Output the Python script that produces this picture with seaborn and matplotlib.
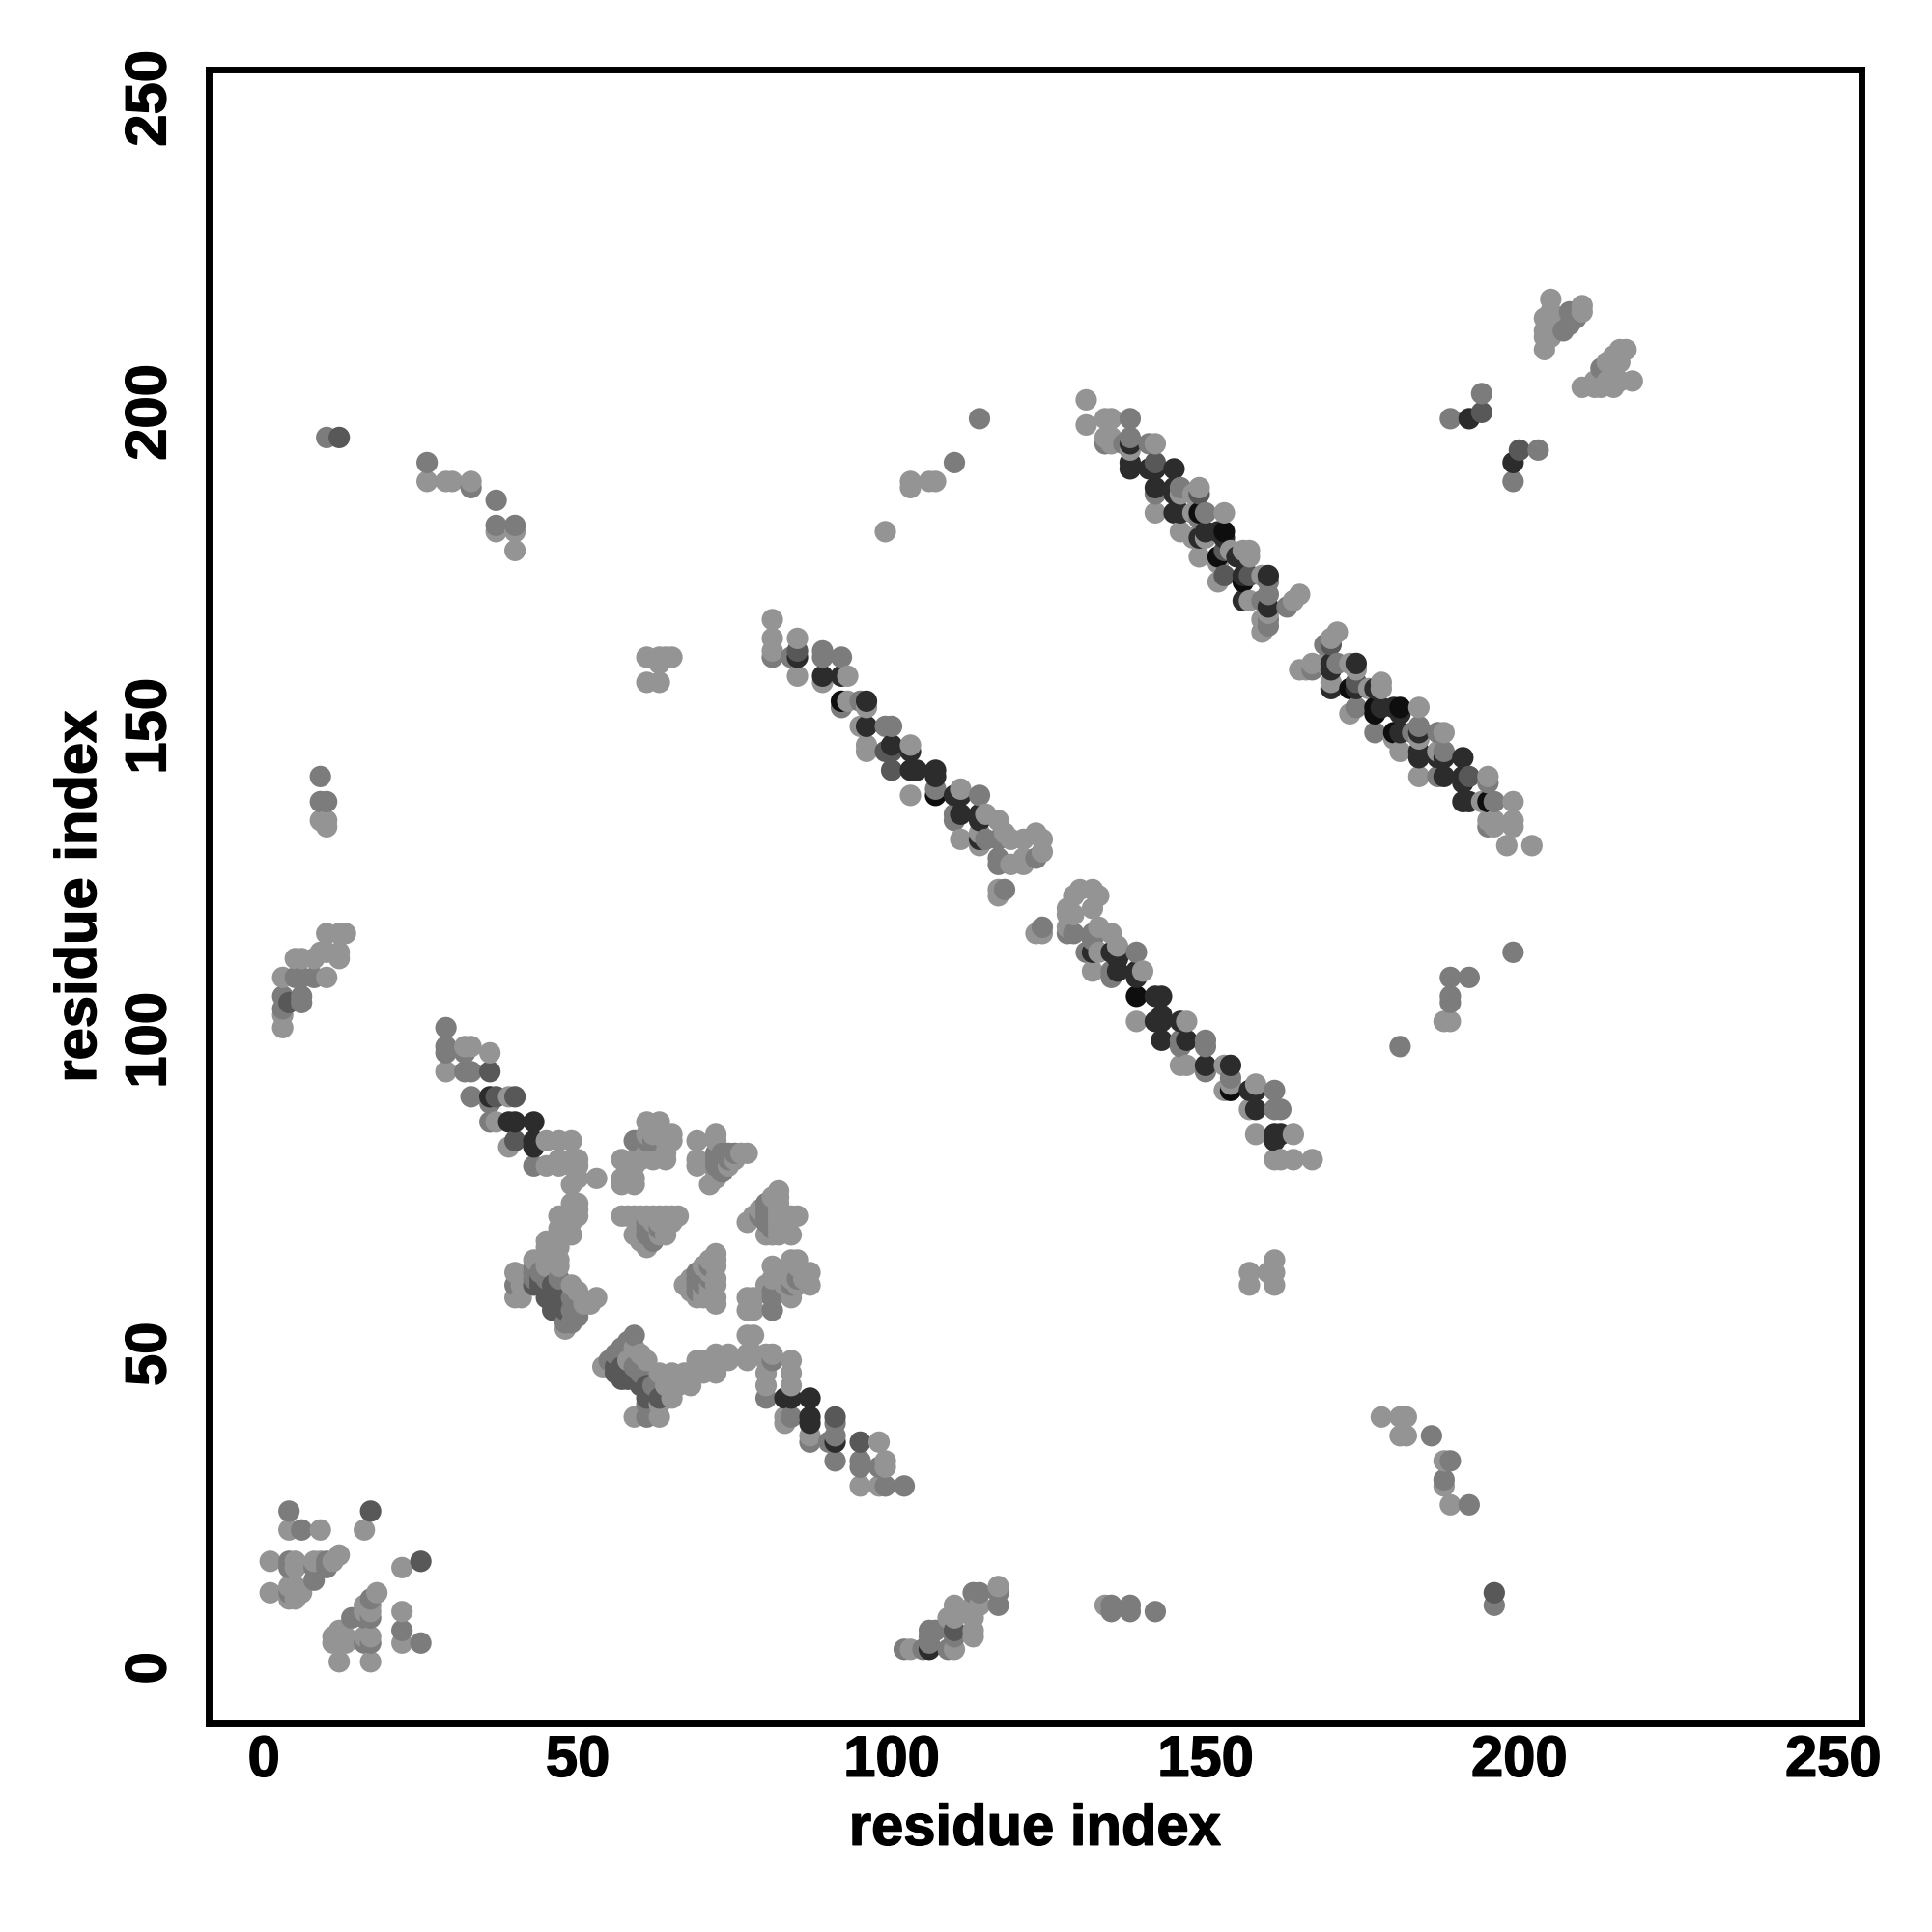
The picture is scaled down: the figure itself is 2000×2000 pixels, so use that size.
#!/usr/bin/env python3

import matplotlib
matplotlib.use("Agg")
import matplotlib.pyplot as plt
import matplotlib.patheffects as pe
import seaborn as sns
import pandas as pd

# contacts (residue i, residue j), grouped by grey level
light = [
    (81,167),(81,164),(81,162),(85,164),(85,158),(89,157),(93,158),(93,154),(96,153),(95,150),(96,147),(96,146),
    (103,147),(103,139),(111,140),(115,136),(111,132),(114,133),(114,131),(117,135),(118,133),(119,132),(121,132),
    (123,133),(124,132),(124,130),(119,128),(121,128),(121,129),(117,124),(117,123),(123,117),(124,117),(128,121),
    (128,120),(128,118),(129,120),(129,123),(130,124),(132,124),(133,123),(132,121),(133,118),(135,117),(133,114),
    (136,115),(132,111),(140,111),(139,103),(147,103),(146,96),(147,96),(153,96),(154,93),(153,92),(158,93),(157,89),
    (158,85),(164,85),(161,81),(162,81),(164,81),(167,81),
    # second band
    (131,202),(131,198),(134,199),(135,199),(134,196),(135,196),(135,195),(138,194),(142,195),(149,188),(146,187),
    (148,187),(142,184),(148,184),(153,184),(146,181),(148,180),(150,180),(149,177),(152,176),(154,178),(156,178),
    (157,178),(157,177),(152,173),(159,174),(157,170),(164,170),(165,171),(160,168),(159,167),(159,165),(171,165),
    (170,164),(165,159),(166,159),(167,160),(169,160),(173,160),(174,159),(170,157),(178,157),(178,156),(176,156),
    (173,152),(184,153),(180,148),(184,148),(188,149),(181,146),(187,146),(184,142),(195,142),(194,138),(199,138),
    (195,135),(196,135),(196,134),(199,135),(199,134),(198,131),(202,131),
    # top right cluster
    (205,218),(205,216),(204,215),(205,215),(204,213),(205,213),(204,212),(205,212),(204,210),(206,213),(210,217),
    (210,216),(216,210),(217,210),(216,208),(215,209),(210,204),(212,204),(213,204),(212,205),(215,204),(215,205),
    (216,205),(218,205),(213,205),(214,205),(214,208),
    # first band, lower half
    (32,99),(33,99),(36,98),(29,95),(39,91),(37,87),(39,83),(45,84),(47,84),(49,84),(45,80),(47,81),(47,80),(49,81),
    (50,81),(49,80),(50,80),(49,77),(50,78),(53,78),(49,74),(50,74),(50,73),(49,73),(50,72),(47,72),(48,72),(49,71),
    (49,69),(47,70),(48,69),(45,68),(47,68),(45,67),(47,67),(43,65),(45,65),(47,65),(47,64),(45,64),(40,63),(40,59),
    (41,59),(41,61),(49,61),(50,60),(51,58),(52,58),(53,59),(48,54),(54,48),(58,49),(59,51),(60,50),(61,49),(63,47),
    (65,47),(65,43),(64,45),(66,45),(68,45),(67,47),(68,47),(59,40),(63,40),(63,42),(69,49),(70,49),(69,47),(70,47),
    (72,50),(74,50),(72,47),(74,49),(77,53),(78,53),(77,50),(78,50),(77,49),(80,50),(81,50),(80,49),(80,47),(80,45),
    (84,49),(84,47),(84,45),(83,40),(83,39),(87,37),(98,36),(99,33),(99,32),(95,29),(98,29),
    # blocks around the centre
    (61,87),(63,87),(61,85),(62,85),(63,85),(64,84),(65,85),(65,84),(64,82),(64,81),(57,81),(59,81),(60,81),(62,81),
    (61,82),(57,78),(59,78),(57,77),(59,77),(59,80),(69,84),(72,85),(72,84),(69,81),(69,80),(76,82),(77,82),(75,81),
    (74,80),(72,79),(72,78),(71,77),(57,72),(58,72),(59,72),(60,72),(61,72),(62,72),(63,72),(64,72),(65,72),(66,72),
    (59,69),(60,69),(63,69),(64,69),(61,68),(60,68),(61,67),(62,71),(64,71),(60,71),(63,71),(65,71),(60,70),(82,76),
    (81,75),(82,75),(82,74),(79,73),(78,72),(77,71),(82,72),(84,72),(85,72),(80,69),(81,69),(82,69),(84,69),(82,71),
    (82,73),(82,70),(72,66),(71,65),(72,65),(72,64),(70,64),(71,63),(68,62),(72,62),(67,61),(71,61),(72,61),(69,59),
    (72,59),(72,58),(70,60),(68,60),(71,60),(71,59),(70,59),(81,64),(84,65),(85,65),
    (81,62),(80,61),(77,59),(78,59),(77,57),(78,57),(83,63),(84,64),(85,64),(87,63),(87,61),(86,62),(83,61),(84,59),
    (85,61),(84,62),
    # bottom left
    (4,22),(9,22),(16,22),(1,17),(5,17),(5,16),(8,17),(9,17),(11,17),(12,18),(22,16),(1,12),(4,13),(5,13),(6,12),
    (4,11),(5,11),(18,12),(16,10),(17,10),(16,9),(17,9),(12,6),(11,5),(12,5),(13,5),(11,4),(12,4),(13,4),(16,5),
    (17,5),(22,9),(22,4),(12,1),(17,1),
    # bottom middle
    (103,3),(110,3),(109,8),(110,10),(110,8),(113,10),(114,10),(113,9),(113,8),(113,6),(113,5),(117,13),(134,10),
    # scattered
    (26,189),(29,189),(30,189),(33,189),(37,181),(40,181),(40,178),(99,181),(103,188),(103,189),(106,189),(107,189),
    (61,161),(61,157),(63,157),(63,161),(64,161),(65,161),(63,160),(9,135),(10,135),(10,134),(3,110),(3,104),(3,102),
    (5,113),(6,113),(8,113),(10,110),(10,114),(12,114),(9,114),(10,117),(12,117),(13,117),(12,113),(188,103),(189,103),
    (157,63),(157,61),(161,65),(161,63),(160,63),(161,61),(178,40),(181,40),(182,40),(181,37),(182,37),(188,33),
    (188,29),(189,26),
]
mid = [
    (81,161),(84,161),(89,162),(89,161),(92,161),(92,153),(95,154),(99,150),(100,150),(107,140),(114,139),(110,136),
    (110,135),(115,132),(117,132),(123,129),(117,129),(117,128),(118,124),(124,118),(128,117),(129,117),(132,117),
    (132,116),(131,114),(139,114),(135,111),(135,110),(146,100),(146,99),(150,100),(150,99),(150,95),(154,94),(161,92),
    (161,89),(162,89),
    (138,199),(134,195),(138,196),(137,195),(141,195),(142,187),(146,188),(149,183),(150,184),(160,173),(159,170),
    (160,171),(163,169),(160,167),(160,166),(169,163),(167,159),(171,160),(174,153),(177,149),(184,150),(183,149),
    (187,149),(188,146),(187,142),(195,141),(196,138),(195,134),
    (194,203),(189,199),(203,194),(199,189),(207,213),(208,216),(208,214),(209,215),(213,207),
    (29,102),(29,99),(29,98),(32,98),(32,95),(33,95),(33,91),(36,90),(36,87),(43,80),(40,61),(43,63),(43,64),(44,63),
    (43,62),(45,62),(47,62),(49,59),(49,57),(49,55),(50,58),(50,56),(48,55),(59,53),(58,52),(57,51),(56,50),(55,49),
    (59,48),(60,47),(62,45),(61,40),(61,42),(81,49),(80,43),(84,40),(91,39),(90,36),(91,37),(91,33),(95,33),(95,32),
    (98,32),(99,29),(102,29),(87,36),
    (59,84),(61,84),(62,84),(74,82),(72,82),(73,81),(73,79),(73,80),(74,81),(72,81),(73,82),(75,82),(72,80),(81,73),
    (80,74),(80,72),(80,71),(81,74),(81,72),(81,71),(80,73),(79,72),(81,70),(62,70),(61,70),(61,71),(61,69),(63,70),
    (62,69),(62,68),(70,62),(69,63),(69,61),(70,63),(71,62),(71,64),(70,61),(69,62),(69,60),(81,60),(81,59),(81,57),
    (85,62),(84,61),
    (4,25),(6,22),(4,17),(4,16),(10,17),(10,16),(8,16),(8,14),(4,12),(17,11),(14,8),(16,8),(17,8),(16,4),(17,4),
    (22,6),(25,4),
    (102,3),(105,3),(106,4),(106,6),(107,6),(106,5),(109,3),(110,5),(113,12),(114,12),(117,12),(117,10),(135,10),
    (135,9),(138,10),(138,9),(142,9),(196,10),
    (10,196),(26,192),(33,188),(37,186),(37,182),(40,182),(110,192),(114,199),(9,142),(9,138),(10,138),(3,107),(3,105),
    (5,110),(6,110),(6,107),(8,110),(199,114),(189,110),(189,107),(189,106),(192,110),(181,99),(186,37),(189,33),
    (188,30),(192,26),(6,106),
]
mid_dark = [
    (85,162),(100,143),(99,146),(100,146),(142,192),(149,187),(153,178),(153,174),(157,174),(170,163),
    (174,157),(192,142),
    (194,200),(200,194),(196,12),(12,196),(110,6),
    (36,95),(37,91),(40,91),(40,84),(43,61),(44,62),(44,61),(45,61),(46,61),(46,59),(47,59),(48,58),(48,57),(56,48),
    (57,48),(56,47),(57,46),(58,46),(59,46),(60,45),(61,43),(63,43),(91,40),(95,36),(17,25),(25,17),(4,106),
    (45,59),(46,58),(46,57),(61,45),
]
dark = [
    (85,161),(89,158),(92,158),(96,154),(96,150),(100,147),(103,146),(103,143),(104,143),(107,143),(107,142),(110,139),
    (111,139),(111,136),(114,136),(114,135),(114,132),(132,114),(135,114),(136,113),(136,111),(139,111),(139,110),
    (142,107),(143,107),(142,103),(143,104),(143,103),(146,103),(143,100),(147,100),(150,96),(154,96),(157,92),(158,92),
    (158,89),(161,85),(162,85),(161,84),
    (138,195),(138,192),(138,191),(141,191),(142,191),(145,191),(142,188),(145,188),(145,187),(145,184),(146,184),
    (149,180),(150,181),(152,181),(153,180),(155,177),(156,174),(160,174),(156,170),(160,169),(170,160),
    (170,159),(174,160),(170,156),(174,156),(177,156),(178,153),(180,153),(181,152),(181,149),(184,149),(184,146),
    (184,145),(188,145),(187,145),(191,145),(188,142),(191,142),(191,141),(191,138),(192,138),(192,199),(199,192),
    (36,91),(39,87),(40,87),(43,87),(43,84),(43,83),(83,43),(84,43),(87,43),(87,40),
    (87,39),(91,36),(106,3),
]
black = [
    (92,154),(107,139),(139,107),(154,92),(149,184),(153,181),(152,177),(156,173),(173,156),(177,153),(177,152),
    (181,153),(180,149),(195,138),
]

shade_names = ["light", "mid", "mid_dark", "dark", "black"]
shade_points = [light, mid, mid_dark, dark, black]
shade_colors = ["#949494", "#7c7c7c", "#585858", "#2c2c2c", "#0e0e0e"]

x_ticks = [0, 50, 100, 150, 200, 250]
y_ticks = [0, 50, 100, 150, 200, 250]

sns.set_theme(style="white")
plt.rcParams["font.family"] = ["Liberation Sans", "DejaVu Sans"]
plt.rcParams["font.weight"] = "bold"

rows = []
for name, points in zip(shade_names, shade_points):
    for i, j in points:
        rows.append({"i": i, "j": j, "shade": name})
df = pd.DataFrame(rows)
# the original loops over i then j, so later residues sit on top
df = df.drop_duplicates(subset=["i", "j"], keep="last").sort_values(["i", "j"])

fig = plt.figure(figsize=(20, 20), dpi=100)
ax = fig.add_axes([0.108, 0.108, 0.8555, 0.856])

sns.scatterplot(
    data=df, x="i", y="j", hue="shade", hue_order=shade_names,
    palette=dict(zip(shade_names, shade_colors)),
    s=255, linewidth=0, alpha=1, legend=False, ax=ax,
)

ax.set_xlim(-8.8, 254.5)
ax.set_ylim(-8.8, 254.6)
ax.set_xticks(x_ticks)
ax.set_yticks(y_ticks)
ax.tick_params(axis="x", length=6.5, width=2.2, color="black", labelsize=43, pad=2, labelcolor="black")
ax.tick_params(axis="y", length=6.5, width=2.2, color="black", labelsize=43, pad=17, labelcolor="black",
               labelrotation=90)
for label in ax.get_yticklabels():
    label.set_va("center")
for side in ax.spines.values():
    side.set_linewidth(5)
    side.set_color("black")

ax.set_xlabel("residue index", fontsize=43, fontweight="bold", color="black", labelpad=11.5)
ax.set_ylabel("residue index", fontsize=43, fontweight="bold", color="black", labelpad=12.5)

# reference text is a heavier bold than Liberation, thicken it a little
heavier = [pe.withStroke(linewidth=1.0, foreground="black")]
for text in ax.get_xticklabels() + ax.get_yticklabels() + [ax.xaxis.label, ax.yaxis.label]:
    text.set_path_effects(heavier)

fig.savefig("out.png", dpi=100, facecolor="white")
